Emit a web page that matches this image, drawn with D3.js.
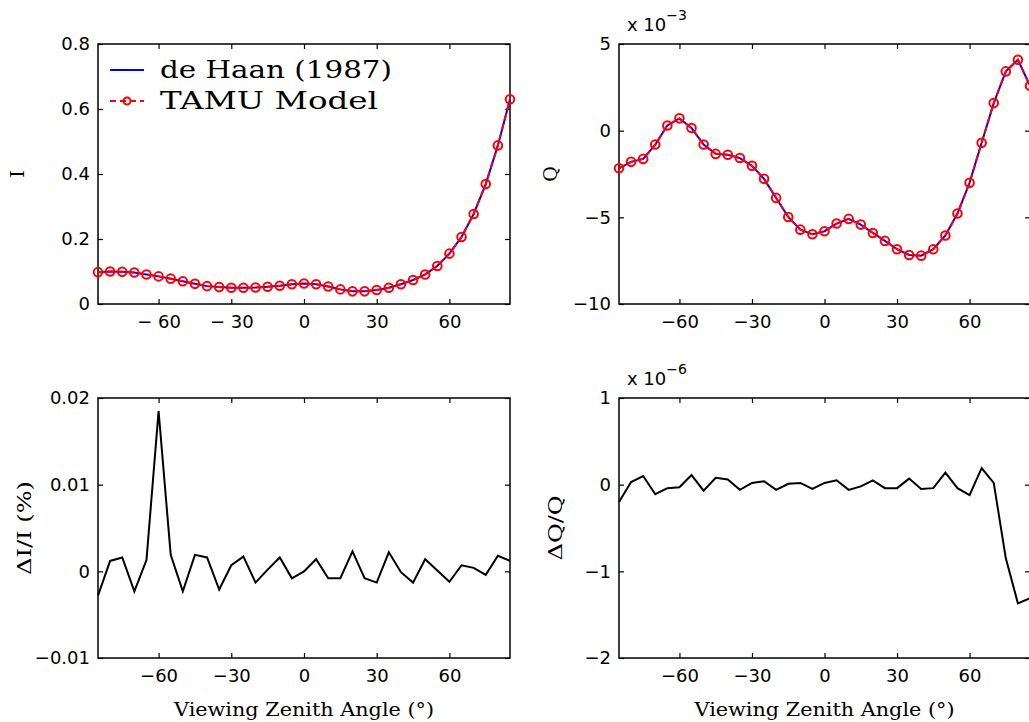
<!DOCTYPE html>
<html>
<head>
<meta charset="utf-8">
<script src="https://cdn.jsdelivr.net/npm/d3@7"></script>
<style>
  body { margin: 0; background: #fff; }
  svg { display: block; }
  .tick text { font-family: "DejaVu Sans", "Liberation Sans", sans-serif; font-size: 18px; fill: #000; }
  .lab { font-family: "DejaVu Serif", "Liberation Serif", serif; fill: #000; }
</style>
</head>
<body>
<div id="chart"></div>
<script>
// viewing zenith angles (deg)
var angles = [-85,-80,-75,-70,-65,-60,-55,-50,-45,-40,-35,-30,-25,-20,-15,-10,-5,0,
              5,10,15,20,25,30,35,40,45,50,55,60,65,70,75,80,85];

// I (de Haan 1987 and TAMU overlap)
var valI = [0.098,0.100,0.099,0.097,0.091,0.085,0.078,0.070,0.062,0.055,0.052,0.050,0.050,0.051,0.053,0.056,0.061,0.063,
            0.061,0.054,0.045,0.039,0.039,0.043,0.050,0.061,0.074,0.091,0.117,0.155,0.206,0.277,0.369,0.488,0.630];

// Q, in units of 1e-3
var valQ = [-2.17,-1.80,-1.63,-0.80,0.30,0.71,0.15,-0.80,-1.34,-1.39,-1.58,-2.03,-2.78,-3.88,-4.98,-5.71,-5.98,-5.80,
            -5.36,-5.09,-5.42,-5.90,-6.36,-6.84,-7.17,-7.21,-6.84,-6.05,-4.78,-3.01,-0.70,1.59,3.42,4.09,2.59];

// relative difference of I (%)
var diffI = [-0.0028,0.0012,0.0016,-0.0023,0.0013,0.0185,0.0019,-0.0023,0.0019,0.0016,-0.0021,0.0007,0.0017,-0.0013,0.0002,0.0016,-0.0008,0.0000,
             0.0014,-0.0008,-0.0008,0.0023,-0.0008,-0.0013,0.0022,-0.0001,-0.0013,0.0014,0.0001,-0.0012,0.0007,0.0004,-0.0004,0.0018,0.0012];

// relative difference of Q, in units of 1e-6
var diffQ = [-0.20,0.03,0.10,-0.11,-0.04,-0.03,0.11,-0.07,0.08,0.06,-0.06,0.02,0.04,-0.06,0.01,0.02,-0.05,0.02,
             0.05,-0.06,-0.02,0.05,-0.04,-0.04,0.07,-0.05,-0.04,0.14,-0.04,-0.12,0.19,0.02,-0.85,-1.37,-1.31];

var xTicks = [-60,-30,0,30,60];
var ticksI = [0,0.2,0.4,0.6,0.8];
var ticksQ = [-10,-5,0,5];
var ticksDI = [-0.01,0,0.01,0.02];
var ticksDQ = [-2,-1,0,1];

var legendNames = ["de Haan (1987)", "TAMU Model"];
var xTitle = "Viewing Zenith Angle (\u00b0)";

var W = 1029, H = 722;
var svg = d3.select("#chart").append("svg").attr("width", W).attr("height", H);

var minus = function(s) { return String(s).replace("-", "\u2212"); };

function panel(opt) {
    var x = d3.scaleLinear().domain([-85, 85]).range([opt.left, opt.right]);
    var y = d3.scaleLinear().domain(opt.ydom).range([opt.bottom, opt.top]);
    var g = svg.append("g");

    g.append("g").attr("transform", "translate(0," + opt.bottom + ")")
        .call(d3.axisBottom(x).tickValues(xTicks).tickSizeInner(-5).tickSizeOuter(0).tickPadding(11)
              .tickFormat(opt.xfmt || minus));
    g.append("g").attr("transform", "translate(0," + opt.top + ")")
        .call(d3.axisTop(x).tickValues(xTicks).tickSizeInner(-5).tickSizeOuter(0).tickFormat(""));
    g.append("g").attr("transform", "translate(" + opt.left + ",0)")
        .call(d3.axisLeft(y).tickValues(opt.yticks).tickSizeInner(-5).tickSizeOuter(0).tickPadding(8)
              .tickFormat(opt.yfmt));
    g.append("g").attr("transform", "translate(" + opt.right + ",0)")
        .call(d3.axisRight(y).tickValues(opt.yticks).tickSizeInner(-5).tickSizeOuter(0).tickFormat(""));
    g.selectAll(".domain").remove();
    g.selectAll(".tick line").attr("stroke", "#000").attr("stroke-width", 1.2);

    g.append("rect")
        .attr("x", opt.left).attr("y", opt.top)
        .attr("width", opt.right - opt.left).attr("height", opt.bottom - opt.top)
        .attr("fill", "none").attr("stroke", "#000").attr("stroke-width", 1.5);

    var line = d3.line().x(function(d, i) { return x(angles[i]); }).y(function(d) { return y(d); });

    if (opt.pair) {
        g.append("path").datum(opt.vals).attr("d", line)
            .attr("fill", "none").attr("stroke", "#0000ff").attr("stroke-width", 2);
        g.append("path").datum(opt.vals).attr("d", line)
            .attr("fill", "none").attr("stroke", "#ff0000").attr("stroke-width", 2)
            .attr("stroke-dasharray", "6,4");
        g.selectAll(".pt").data(opt.vals).enter().append("circle")
            .attr("cx", function(d, i) { return x(angles[i]); })
            .attr("cy", function(d) { return y(d); })
            .attr("r", 4.3).attr("fill", "none").attr("stroke", "#ff0000").attr("stroke-width", 2);
    } else {
        g.append("path").datum(opt.vals).attr("d", line)
            .attr("fill", "none").attr("stroke", "#000").attr("stroke-width", 2);
    }

    // y title
    var cy = (opt.top + opt.bottom) / 2;
    var yl = svg.append("text").attr("class", "lab")
        .attr("transform", "translate(" + opt.ylabX + "," + cy + ") rotate(-90)")
        .attr("text-anchor", "middle").attr("font-size", 19)
        .text(opt.ylabel);
    if (opt.ylabLen) yl.attr("textLength", opt.ylabLen).attr("lengthAdjust", "spacingAndGlyphs");

    if (opt.exp) {
        var t = svg.append("text")
            .attr("x", opt.left + 8).attr("y", opt.top - 13)
            .attr("font-family", "DejaVu Sans, Liberation Sans, sans-serif").attr("font-size", 18);
        t.append("tspan").text("x 10");
        t.append("tspan").attr("dy", -11).attr("font-size", 14).text("\u2212" + opt.exp);
    }
    if (opt.xlabel) {
        svg.append("text").attr("class", "lab")
            .attr("x", (opt.left + opt.right) / 2).attr("y", 716)
            .attr("text-anchor", "middle").attr("font-size", 19)
            .attr("textLength", 260).attr("lengthAdjust", "spacingAndGlyphs")
            .text(opt.xlabel);
    }
    return { x: x, y: y, g: g };
}

var topRow = { top: 44, bottom: 304 }, botRow = { top: 398, bottom: 658 };

panel({ left: 98, right: 510, top: topRow.top, bottom: topRow.bottom, ydom: [0, 0.8], yticks: ticksI,
        yfmt: function(d) { return d === 0 ? "0" : d3.format(".1f")(d); },
        xfmt: function(d) { return d < 0 ? "\u2212 " + Math.abs(d) : String(d); },
        vals: valI, pair: true, ylabel: "I", ylabX: 24 });

panel({ left: 619, right: 1030, top: topRow.top, bottom: topRow.bottom, ydom: [-10, 5], yticks: ticksQ,
        yfmt: minus, vals: valQ, pair: true, ylabel: "Q", ylabX: 557, exp: 3 });

panel({ left: 98, right: 510, top: botRow.top, bottom: botRow.bottom, ydom: [-0.01, 0.02], yticks: ticksDI,
        yfmt: function(d) { return d === 0 ? "0" : minus(d3.format(".2f")(d)); },
        vals: diffI, pair: false, ylabel: "\u0394I/I (%)", ylabX: 31, ylabLen: 94, xlabel: xTitle });

panel({ left: 619, right: 1030, top: botRow.top, bottom: botRow.bottom, ydom: [-2, 1], yticks: ticksDQ,
        yfmt: minus, vals: diffQ, pair: false, ylabel: "\u0394Q/Q", ylabX: 562, ylabLen: 65, exp: 6, xlabel: xTitle });

// legend in the I panel
var leg = svg.append("g");
var legLen = [232, 218];
legendNames.forEach(function(name, i) {
    var ly = 70 + i * 31;
    if (i === 0) {
        leg.append("line").attr("x1", 110).attr("x2", 144).attr("y1", ly).attr("y2", ly)
            .attr("stroke", "#0000ff").attr("stroke-width", 2);
    } else {
        leg.append("line").attr("x1", 110).attr("x2", 144).attr("y1", ly).attr("y2", ly)
            .attr("stroke", "#ff0000").attr("stroke-width", 2).attr("stroke-dasharray", "6,4");
        leg.append("circle").attr("cx", 127).attr("cy", ly).attr("r", 3.5)
            .attr("fill", "none").attr("stroke", "#ff0000").attr("stroke-width", 2);
    }
    leg.append("text").attr("class", "lab")
        .attr("x", 160).attr("y", ly + 8).attr("font-size", 25)
        .attr("textLength", legLen[i]).attr("lengthAdjust", "spacingAndGlyphs")
        .text(name);
});
</script>
</body>
</html>
